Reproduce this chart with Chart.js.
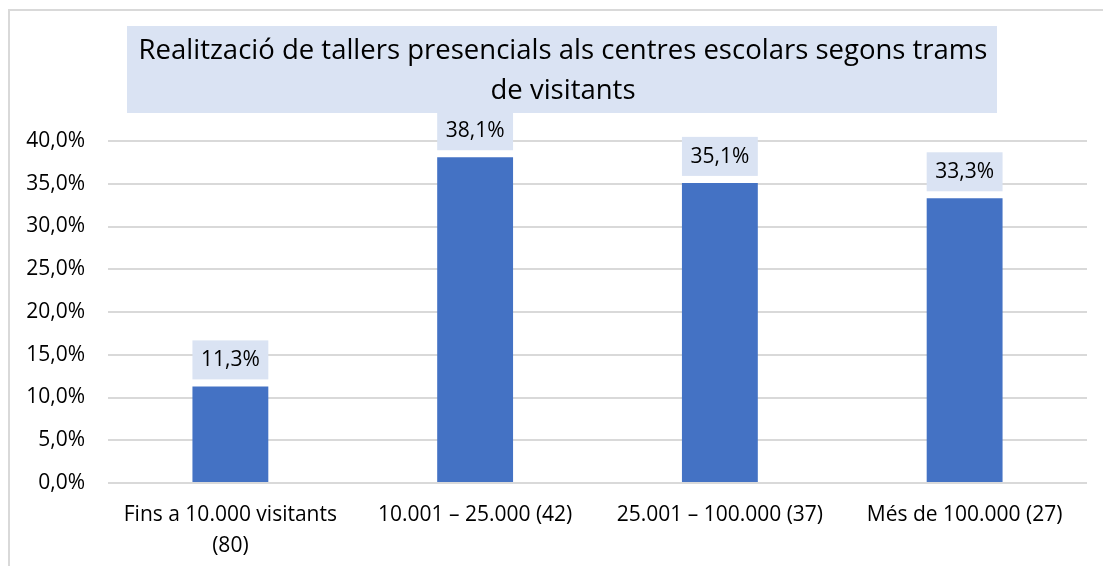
<!DOCTYPE html>
<html>
<head>
<meta charset="utf-8">
<script src="https://cdn.jsdelivr.net/npm/chart.js@4/dist/chart.umd.min.js"></script>
<style>
  body { margin: 0; background: #fff; }
  #wrap { position: relative; width: 1103px; height: 566px; }
  #frame { position: absolute; left: 8px; top: 9px; right: -5px; bottom: -5px; border: 2px solid #d9d9d9; }
  canvas { position: absolute; left: 0; top: 0; }
</style>
</head>
<body>
<div id="wrap">
  <div id="frame"></div>
  <canvas id="chart" width="1103" height="566"></canvas>
</div>
<script>
var titleLines = ['Realització de tallers presencials als centres escolars segons trams', 'de visitants']
var categories = [['Fins a 10.000 visitants', '(80)'], '10.001 – 25.000 (42)', '25.001 – 100.000 (37)', 'Més de 100.000 (27)']
var values = [11.3, 38.1, 35.1, 33.3]
var yMax = 40
var yStep = 5

var FONT = '"Open Sans", sans-serif'
var LIGHT = '#dae3f3'

function pct(v) {
    return v.toFixed(1).replace('.', ',') + '%'
}

// title with its light box (drawn here so it can sit off-centre like the original)
var titleBox = {
    id: 'titleBox',
    beforeDraw: function (chart) {
        var ctx = chart.ctx
        ctx.save()
        ctx.fillStyle = LIGHT
        ctx.fillRect(127, 26, 870, 87)
        ctx.fillStyle = '#000'
        ctx.font = '27.5px ' + FONT
        ctx.textAlign = 'center'
        ctx.textBaseline = 'middle'
        titleLines.forEach(function (line, i) {
            ctx.fillText(line, 563, 51 + i * 40)
        })
        ctx.restore()
    }
}

// value labels with a light box above each bar
var barLabels = {
    id: 'barLabels',
    afterDatasetsDraw: function (chart) {
        var ctx = chart.ctx
        var meta = chart.getDatasetMeta(0)
        ctx.save()
        ctx.font = '21px ' + FONT
        ctx.textAlign = 'center'
        ctx.textBaseline = 'middle'
        meta.data.forEach(function (bar, i) {
            var w = bar.width
            var top = bar.y - 7 - 39
            ctx.fillStyle = LIGHT
            ctx.fillRect(bar.x - w / 2, top, w, 39)
            ctx.fillStyle = '#000'
            ctx.fillText(pct(values[i]), bar.x, top + 20)
        })
        ctx.restore()
    }
}

new Chart(document.getElementById('chart'), {
    type: 'bar',
    data: {
        labels: categories,
        datasets: [{
            data: values,
            backgroundColor: '#4472c4',
            categoryPercentage: 1,
            barPercentage: 0.31
        }]
    },
    options: {
        responsive: false,
        animation: false,
        layout: { padding: { left: 26, right: 16, top: 141, bottom: 0 } },
        plugins: {
            legend: { display: false },
            tooltip: { enabled: false },
            title: { display: false }
        },
        scales: {
            x: {
                grid: { display: false, drawTicks: false },
                border: { display: false },
                ticks: { color: '#000', font: { family: FONT, size: 21, lineHeight: 1.5 }, padding: 16, maxRotation: 0 },
                afterFit: function (scale) {
                    scale.height = 83
                    scale.paddingLeft = 0
                    scale.paddingRight = 0
                }
            },
            y: {
                min: 0,
                max: yMax,
                grid: { color: '#d9d9d9', lineWidth: 2, drawTicks: false },
                border: { display: false },
                ticks: {
                    stepSize: yStep,
                    color: '#000',
                    font: { family: FONT, size: 21 },
                    padding: 23,
                    callback: function (v) { return pct(v) }
                },
                afterFit: function (scale) {
                    scale.width = 82
                    scale.paddingTop = 0
                    scale.paddingBottom = 0
                }
            }
        }
    },
    plugins: [titleBox, barLabels]
})
</script>
</body>
</html>
